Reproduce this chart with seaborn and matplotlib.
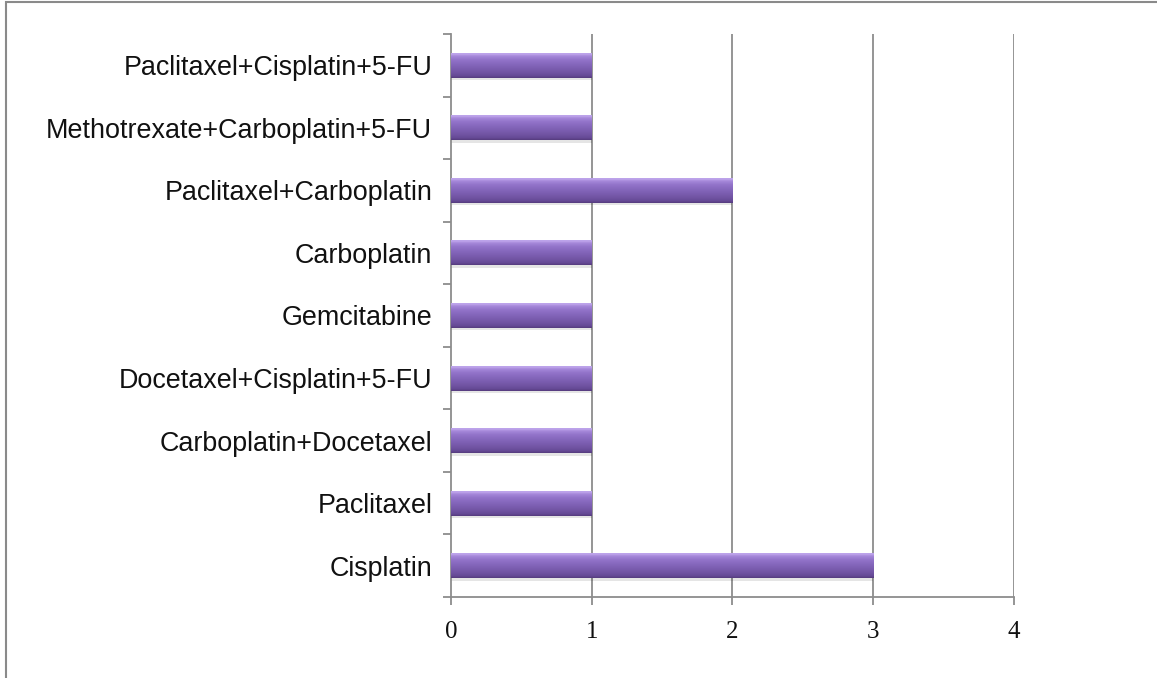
import numpy as np
import pandas as pd
import matplotlib
matplotlib.use("Agg")
import matplotlib.pyplot as plt
from matplotlib.patches import Rectangle
from matplotlib.colors import LinearSegmentedColormap
import seaborn as sns

regimens = [
    "Paclitaxel+Cisplatin+5-FU",
    "Methotrexate+Carboplatin+5-FU",
    "Paclitaxel+Carboplatin",
    "Carboplatin",
    "Gemcitabine",
    "Docetaxel+Cisplatin+5-FU",
    "Carboplatin+Docetaxel",
    "Paclitaxel",
    "Cisplatin",
]
patients = [1, 1, 2, 1, 1, 1, 1, 1, 3]
x_ticks = [0, 1, 2, 3, 4]

df = pd.DataFrame({"regimen": regimens, "patients": patients})

sns.set_style("white")
fig = plt.figure(figsize=(11.57, 6.78), dpi=100)
ax = fig.add_axes([0.3898, 0.1195, 0.4866, 0.8304])

grid_col = "#8c8c8c"
sns.barplot(data=df, y="regimen", x="patients", orient="h", order=regimens,
            color="#7a5aa8", width=0.4, ax=ax, zorder=3, saturation=1)

# bevelled purple fill for each bar (top -> bottom)
bevel = LinearSegmentedColormap.from_list(
    "bevel",
    [(0.0, "#ae94df"), (0.07, "#c2a9ee"), (0.15, "#a688da"), (0.3, "#9273c9"),
     (0.55, "#8062b6"), (0.8, "#7053a2"), (0.92, "#654995"), (1.0, "#553b7d")])
grad = np.linspace(0, 1, 256).reshape(-1, 1)
for p in list(ax.patches):
    x0, y0 = p.get_x(), p.get_y()
    w, h = p.get_width(), p.get_height()
    im = ax.imshow(grad, cmap=bevel, aspect="auto", origin="upper",
                   extent=(x0, x0 + w, y0 + h, y0), zorder=4,
                   interpolation="bilinear")
    im.set_clip_path(p)
    p.set_edgecolor("none")
    # soft shadow under the bar
    ax.add_patch(Rectangle((x0, y0 + h), w, h * 0.1, facecolor="#000000",
                           alpha=0.1, edgecolor="none", zorder=2))

ax.set_xlim(0, 4)
ax.set_ylim(len(regimens) - 0.5, -0.5)
ax.set_xticks(x_ticks)
ax.set_xticklabels([str(t) for t in x_ticks], fontfamily="Liberation Serif",
                   fontsize=18, color="#111111")
ax.set_xlabel("")
ax.set_ylabel("")

for v in x_ticks[1:]:
    ax.axvline(v, color=grid_col, lw=1.3, zorder=1)

for s in ["top", "right"]:
    ax.spines[s].set_visible(False)
for s in ["left", "bottom"]:
    ax.spines[s].set_color(grid_col)
    ax.spines[s].set_linewidth(1.3)

ax.tick_params(axis="x", bottom=True, direction="out", length=6, width=1.3,
               color=grid_col, pad=11.5)
ax.tick_params(axis="y", which="major", left=True, length=0, pad=13.5)
ax.set_yticks(np.arange(-0.5, len(regimens) + 0.5, 1), minor=True)
ax.tick_params(axis="y", which="minor", left=True, direction="out", length=6,
               width=1.3, color=grid_col)
for lab in ax.get_yticklabels():
    lab.set_fontfamily("Liberation Sans")
    lab.set_fontsize(19.4)
    lab.set_color("#111111")

# outer frame of the figure
fig.patches.append(Rectangle((6 / 1157, -0.5), 2.0, 0.5 + 1 - 2 / 678,
                             transform=fig.transFigure, fill=False,
                             edgecolor="#8a8a8a", lw=1.5, zorder=0))

fig.savefig("out.png", dpi=100)
